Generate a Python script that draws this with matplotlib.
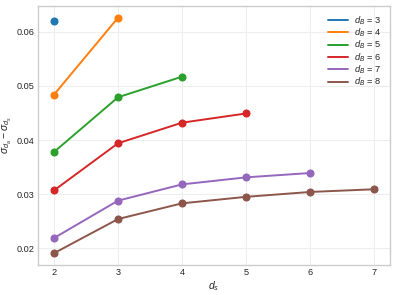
import matplotlib
matplotlib.use("Agg")
import matplotlib.pyplot as plt

d_B = [3, 4, 5, 6, 7, 8]
d_s = {
    3: [2],
    4: [2, 3],
    5: [2, 3, 4],
    6: [2, 3, 4, 5],
    7: [2, 3, 4, 5, 6],
    8: [2, 3, 4, 5, 6, 7],
}
diff = {
    3: [0.0619],
    4: [0.0484, 0.0626],
    5: [0.0378, 0.0479, 0.0517],
    6: [0.0307, 0.0394, 0.0432, 0.0449],
    7: [0.0219, 0.0288, 0.0318, 0.0331, 0.0339],
    8: [0.0191, 0.0254, 0.0283, 0.0295, 0.0304, 0.0309],
}

plt.style.use("seaborn-v0_8-whitegrid")
plt.rcParams["font.family"] = ["Liberation Sans", "DejaVu Sans"]
plt.rcParams["mathtext.fontset"] = "custom"
plt.rcParams["mathtext.rm"] = "Liberation Sans"
plt.rcParams["mathtext.it"] = "Liberation Sans:italic"
plt.rcParams["mathtext.bf"] = "Liberation Sans:bold"

fig, ax = plt.subplots(figsize=(3.97, 2.95), dpi=100)
for b in d_B:
    ax.plot(d_s[b], diff[b], marker="o", markersize=4.8, linewidth=1.4, label=f"$d_B$ = {b}")

ax.set_xlabel("$d_s$", fontsize=7.5, labelpad=1)
ax.set_ylabel(r"$\sigma_{d_a} - \sigma_{d_s}$", fontsize=7.5, labelpad=2)
ax.set_xticks([2, 3, 4, 5, 6, 7])
ax.set_yticks([0.02, 0.03, 0.04, 0.05, 0.06])
ax.tick_params(labelsize=6.6, pad=2.5)
ax.grid(True, color="#eeeeee", linewidth=0.8)
for s in ax.spines.values():
    s.set_visible(True)
    s.set_color("#cccccc")
    s.set_linewidth(1.0)
leg = ax.legend(fontsize=6.7, frameon=False, loc="upper right", handlelength=2.1,
                labelspacing=-0.02, handletextpad=0.7, borderaxespad=0.5)
for h in leg.legend_handles:
    h.set_marker("")
fig.subplots_adjust(left=0.096, right=0.982, top=0.98, bottom=0.102)
fig.savefig("out.png", dpi=100)
